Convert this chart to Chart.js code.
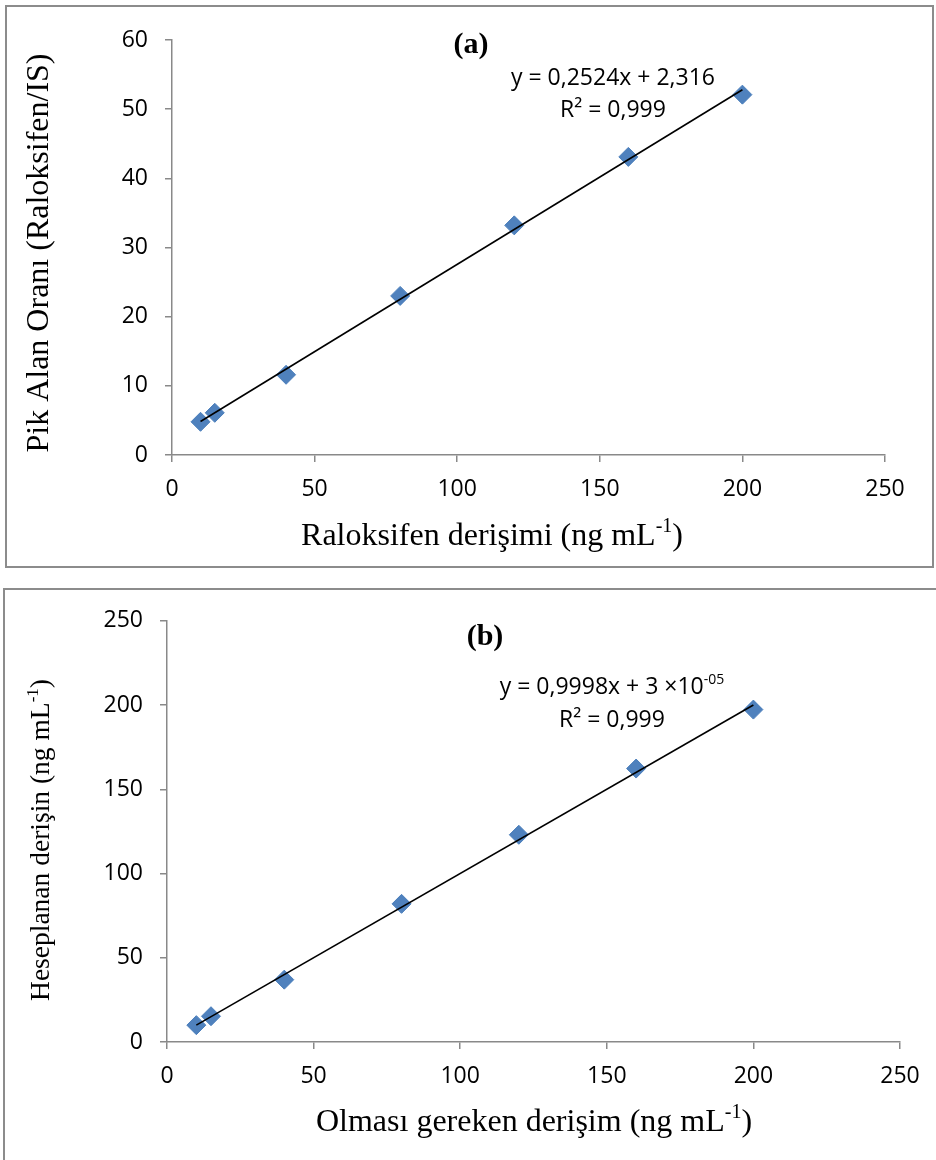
<!DOCTYPE html>
<html>
<head>
<meta charset="utf-8">
<script src="https://cdn.jsdelivr.net/npm/chart.js@4.4.1/dist/chart.umd.min.js"></script>
<style>
body { margin: 0; background: #fff; width: 936px; height: 1160px; overflow: hidden; position: relative; }
.box { position: absolute; border: 2px solid #8c8c8c; background: #fff; }
#boxA { left: 5px; top: 5px; width: 925px; height: 559px; }
#boxB { left: 3px; top: 588px; width: 935px; height: 574px; }
</style>
</head>
<body>
<div class="box" id="boxA"><canvas id="chartA" width="925" height="559"></canvas></div>
<div class="box" id="boxB"><canvas id="chartB" width="935" height="574"></canvas></div>
<script>
// Data
const concA = [10, 15, 40, 80, 120, 160, 200];
const ratioA = [4.8, 6.1, 11.6, 23.0, 33.2, 43.1, 52.1];
const trendAX = [10, 200];
const trendAY = [4.84, 52.8];

const concB = [10, 15, 40, 80, 120, 160, 200];
const calcB = [10.0, 15.3, 37.0, 82.0, 123.0, 162.3, 197.3];
const trendBX = [10, 200];
const trendBY = [10.0, 200.0];

const xTicks = [0, 50, 100, 150, 200, 250];
const yTicksA = [0, 10, 20, 30, 40, 50, 60];
const yTicksB = [0, 50, 100, 150, 200, 250];

const tickFont = "'Liberation Sans Narrow', 'Open Sans', sans-serif";
const serif = "'Liberation Serif', 'DejaVu Serif', serif";
const axisGray = '#898989';

function toPoints(xs, ys) {
    return xs.map((x, i) => ({ x: x, y: ys[i] }));
}

// draws a line of text made of normal and superscript parts, centred on cx
function drawParts(ctx, parts, cx, cy, size, family, weight) {
    const fontN = `${weight || ''} ${size}px ${family}`;
    const fontS = `${weight || ''} ${Math.round(size * 0.62)}px ${family}`;
    let total = 0;
    parts.forEach(p => {
        ctx.font = p.sup ? fontS : fontN;
        total += ctx.measureText(p.t).width;
    });
    let x = cx - total / 2;
    ctx.textBaseline = 'middle';
    ctx.textAlign = 'left';
    parts.forEach(p => {
        ctx.font = p.sup ? fontS : fontN;
        ctx.fillText(p.t, x, p.sup ? cy - size * 0.32 : cy);
        x += ctx.measureText(p.t).width;
    });
}

function textPlugin(cfg) {
    return {
        id: 'texts',
        afterDraw(chart) {
            const ctx = chart.ctx;
            ctx.save();
            ctx.fillStyle = '#000';
            // y axis title (rotated)
            ctx.save();
            ctx.translate(cfg.yTitle.x, cfg.yTitle.y);
            ctx.rotate(-Math.PI / 2);
            drawParts(ctx, cfg.yTitle.parts, 0, 0, cfg.yTitle.size, serif);
            ctx.restore();
            // x axis title
            drawParts(ctx, cfg.xTitle.parts, cfg.xTitle.x, cfg.xTitle.y, cfg.xTitle.size, serif);
            // panel label
            drawParts(ctx, [{ t: cfg.panel.t }], cfg.panel.x, cfg.panel.y, 30, serif, 'bold');
            // equation
            cfg.eq.forEach(line => {
                drawParts(ctx, line.parts, line.x, line.y, cfg.eqSize, tickFont);
            });
            ctx.restore();
        }
    };
}

function makeChart(id, pts, trend, yTicks, yMax, layout, texts) {
    return new Chart(document.getElementById(id), {
        type: 'scatter',
        data: {
            datasets: [
                {
                    label: 'trend',
                    data: trend,
                    showLine: true,
                    borderColor: '#000',
                    borderWidth: 1.6,
                    pointRadius: 0,
                    order: 0
                },
                {
                    label: 'points',
                    data: pts,
                    pointStyle: 'rectRot',
                    pointRadius: 9.5,
                    pointBackgroundColor: '#4f81bd',
                    pointBorderColor: '#4a7ebb',
                    pointBorderWidth: 1,
                    order: 1
                }
            ]
        },
        options: {
            responsive: false,
            animation: false,
            layout: { padding: { left: 0, right: layout.right, top: layout.top, bottom: 0 } },
            plugins: { legend: { display: false }, tooltip: { enabled: false } },
            scales: {
                x: {
                    type: 'linear',
                    min: 0,
                    max: 250,
                    afterBuildTicks: s => { s.ticks = xTicks.map(v => ({ value: v })); },
                    afterFit: s => { s.height = layout.xHeight; },
                    grid: { drawOnChartArea: false, drawTicks: true, tickLength: 7, color: axisGray, lineWidth: 1.5 },
                    border: { color: axisGray, width: 1.5 },
                    ticks: { color: '#000', padding: 14, font: { family: tickFont, size: 23 } }
                },
                y: {
                    type: 'linear',
                    min: 0,
                    max: yMax,
                    afterBuildTicks: s => { s.ticks = yTicks.map(v => ({ value: v })); },
                    afterFit: s => { s.width = layout.yWidth; },
                    grid: { drawOnChartArea: false, drawTicks: true, tickLength: 7, color: axisGray, lineWidth: 1.5 },
                    border: { color: axisGray, width: 1.5 },
                    ticks: { color: '#000', padding: 17, font: { family: tickFont, size: 23 } }
                }
            }
        },
        plugins: [textPlugin(texts)]
    });
}

makeChart('chartA', toPoints(concA, ratioA), toPoints(trendAX, trendAY), yTicksA, 60,
    { right: 47, top: 33, xHeight: 111, yWidth: 165 },
    {
        eqSize: 23,
        yTitle: { x: 33, y: 246, size: 32, parts: [{ t: 'Pik Alan Oranı (Raloksifen/IS)' }] },
        xTitle: { x: 485, y: 530, size: 32, parts: [{ t: 'Raloksifen derişimi (ng mL' }, { t: '-1', sup: true }, { t: ')' }] },
        panel: { t: '(a)', x: 464, y: 38 },
        eq: [
            { x: 606, y: 71, parts: [{ t: 'y = 0,2524x + 2,316' }] },
            { x: 606, y: 103, parts: [{ t: 'R² = 0,999' }] }
        ]
    });

makeChart('chartB', toPoints(concB, calcB), toPoints(trendBX, trendBY), yTicksB, 250,
    { right: 40, top: 29, xHeight: 122, yWidth: 162 },
    {
        eqSize: 23,
        yTitle: { x: 37, y: 250, size: 27.5, parts: [{ t: 'Heseplanan derişin (ng mL' }, { t: '-1', sup: true }, { t: ')' }] },
        xTitle: { x: 529, y: 533, size: 32, parts: [{ t: 'Olması gereken derişim (ng mL' }, { t: '-1', sup: true }, { t: ')' }] },
        panel: { t: '(b)', x: 480, y: 47 },
        eq: [
            { x: 607, y: 97, parts: [{ t: 'y = 0,9998x + 3 ×10' }, { t: '-05', sup: true }] },
            { x: 607, y: 130, parts: [{ t: 'R² = 0,999' }] }
        ]
    });
</script>
</body>
</html>
